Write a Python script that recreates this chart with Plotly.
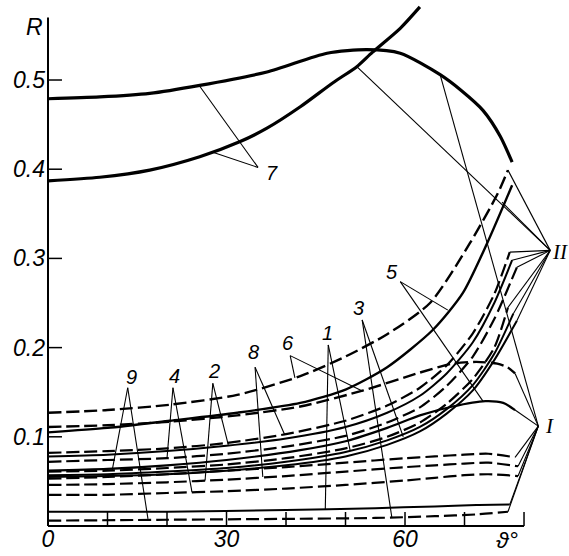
import plotly.graph_objects as go

# ------------------------------------------------------------------ data
# curve 7 : family I (upper) and family II (lower)
x_7_I = [0, 8.7, 17.1, 25.5, 36.8, 46.9, 53.6, 59.2, 65.9, 69.5, 73.1, 76.0, 78.0]
r_7_I = [0.479, 0.481, 0.485, 0.494, 0.509, 0.530, 0.534, 0.530, 0.506, 0.488, 0.466, 0.437, 0.408]
x_7_II = [0, 8.7, 17.1, 25.5, 32.3, 36.8, 42.4, 47.9, 51.9, 54.5, 59.2, 62.5]
r_7_II = [0.387, 0.391, 0.399, 0.414, 0.431, 0.446, 0.470, 0.497, 0.515, 0.531, 0.558, 0.582]

# family II (rising curves)
x_6_II = [0, 10, 20.5, 31.8, 42.4, 50, 57, 64.2, 70.9, 75.6, 77.3]
r_6_II = [0.127, 0.130, 0.136, 0.147, 0.168, 0.190, 0.215, 0.250, 0.317, 0.373, 0.399]
x_5_II = [0, 10, 20.5, 31.8, 42.4, 50, 57, 64.7, 69.7, 73.8, 78.0]
r_5_II = [0.105, 0.110, 0.118, 0.127, 0.138, 0.153, 0.178, 0.220, 0.261, 0.317, 0.382]
x_8_II = [0, 10, 20, 30, 40, 50, 57, 62.5, 67, 71.4, 75, 77.6]
r_8_II = [0.082, 0.084, 0.087, 0.093, 0.103, 0.118, 0.135, 0.155, 0.180, 0.216, 0.260, 0.307]
x_2_II = [0, 10, 20, 30, 40, 50, 57, 62.5, 67, 71.4, 75, 78.0]
r_2_II = [0.078, 0.080, 0.084, 0.090, 0.098, 0.111, 0.127, 0.146, 0.171, 0.206, 0.250, 0.298]
x_4_II = [0, 10, 20, 30, 40, 50, 57, 62.5, 67, 71.4, 75, 78.8]
r_4_II = [0.072, 0.074, 0.076, 0.081, 0.089, 0.101, 0.116, 0.133, 0.157, 0.190, 0.232, 0.290]
x_9_II = [0, 10, 20, 30, 40, 50, 57, 62.5, 67, 71.4, 75, 77.3]
r_9_II = [0.061, 0.062, 0.065, 0.069, 0.076, 0.087, 0.100, 0.116, 0.137, 0.165, 0.200, 0.245]
x_1_II = [0, 10, 20, 30, 40, 50, 57, 62.5, 67, 71.4, 75, 78.2]
r_1_II = [0.057, 0.058, 0.061, 0.065, 0.072, 0.083, 0.096, 0.111, 0.131, 0.158, 0.193, 0.238]
x_3_II = [0, 10, 20, 30, 40, 50, 57, 62.5, 67, 71.4, 75, 78.8]
r_3_II = [0.055, 0.056, 0.058, 0.062, 0.068, 0.078, 0.091, 0.106, 0.126, 0.152, 0.186, 0.230]

# family I (flatter curves)
x_6_I = [0, 10, 20.5, 31.8, 42.4, 53, 62.5, 68, 72, 75.5, 77.2, 78.5]
r_6_I = [0.111, 0.113, 0.117, 0.124, 0.134, 0.152, 0.172, 0.182, 0.184, 0.182, 0.178, 0.171]
x_5_I = [0, 10, 20, 30, 42.4, 50, 57, 62.5, 68, 73.5, 76.5, 78.5]
r_5_I = [0.062, 0.064, 0.068, 0.074, 0.085, 0.095, 0.110, 0.124, 0.134, 0.140, 0.138, 0.130]
x_8_I = [0, 10, 20, 30, 40, 50, 60, 65, 70, 74, 78.5]
r_8_I = [0.053, 0.055, 0.058, 0.062, 0.066, 0.071, 0.076, 0.078, 0.080, 0.081, 0.077]
x_2_I = [0, 10, 20, 30, 40, 50, 60, 65, 70, 74, 79.0]
r_2_I = [0.046, 0.047, 0.049, 0.052, 0.056, 0.061, 0.066, 0.068, 0.070, 0.071, 0.067]
x_4_I = [0, 10, 20, 30, 40, 50, 60, 65, 70, 74, 79.0]
r_4_I = [0.035, 0.035, 0.037, 0.039, 0.042, 0.046, 0.051, 0.054, 0.057, 0.058, 0.056]
x_1_I = [0, 20, 40, 55, 65, 72, 77.6]
r_1_I = [0.016, 0.016, 0.018, 0.020, 0.022, 0.0235, 0.024]
x_3_I = [0, 20, 40, 55, 65, 72, 77.3]
r_3_I = [0.006, 0.007, 0.008, 0.009, 0.011, 0.013, 0.016]

# axis ticks / labels
x_tick_marks = [10, 20, 30, 40, 50, 60, 70, 80]
x_tick_vals = [0, 30, 60]
x_tick_text = ["0", "30", "60"]
y_tick_vals = [0.1, 0.2, 0.3, 0.4, 0.5]
y_tick_text = ["0.1", "0.2", "0.3", "0.4", "0.5"]

# ------------------------------------------------------------------ styles
X_RANGE = [-0.336, 87.56]
Y_RANGE = [-0.00224, 0.5897]


def px(x):
    return (x - X_RANGE[0]) / (X_RANGE[1] - X_RANGE[0])


def py(y):
    return (y - Y_RANGE[0]) / (Y_RANGE[1] - Y_RANGE[0])


DASH = "13px,5px"
curves = [
    (x_7_I, r_7_I, "solid", 3.2), (x_7_II, r_7_II, "solid", 3.2),
    (x_6_II, r_6_II, DASH, 2.4), (x_5_II, r_5_II, "solid", 2.4),
    (x_8_II, r_8_II, DASH, 2.2), (x_2_II, r_2_II, "solid", 2.0),
    (x_4_II, r_4_II, DASH, 2.2), (x_9_II, r_9_II, DASH, 2.2),
    (x_1_II, r_1_II, "solid", 2.0), (x_3_II, r_3_II, "solid", 2.0),
    (x_6_I, r_6_I, DASH, 2.4), (x_5_I, r_5_I, "solid", 2.2),
    (x_8_I, r_8_I, DASH, 2.2), (x_2_I, r_2_I, DASH, 2.2),
    (x_4_I, r_4_I, DASH, 2.2), (x_1_I, r_1_I, "solid", 2.0),
    (x_3_I, r_3_I, DASH, 2.2),
]

fig = go.Figure()
for xs, ys, dash, w in curves:
    fig.add_trace(go.Scatter(x=xs, y=ys, mode="lines", hoverinfo="skip", showlegend=False,
                             line=dict(color="black", width=w, dash=dash,
                                       shape="spline", smoothing=0.7)))

# ------------------------------------------------------------------ axes drawn as lines
ax_line = dict(color="black", width=2)
fig.add_shape(type="line", x0=0, y0=0, x1=0, y1=0.57, line=ax_line)
fig.add_shape(type="line", x0=0, y0=0, x1=80, y1=0, line=ax_line)
for v in x_tick_marks:
    fig.add_shape(type="line", x0=v, y0=0, x1=v, y1=0.0157, line=dict(color="black", width=1.5))
for v in y_tick_vals:
    fig.add_shape(type="line", x0=0, y0=v, x1=2.35, y1=v, line=dict(color="black", width=1.5))

# ------------------------------------------------------------------ labels with leader lines
leaders = [
    ("7", (37.6, 0.396), (35.3, 0.402), [(25.5, 0.493), (27.7, 0.419)]),
    ("9", (14.0, 0.167), (13.4, 0.155), [(10.8, 0.063), (16.8, 0.008)]),
    ("4", (21.2, 0.168), (21.0, 0.155), [(20.0, 0.076), (24.2, 0.038)]),
    ("2", (27.9, 0.174), (27.7, 0.160), [(26.4, 0.051), (30.3, 0.091)]),
    ("8", (34.5, 0.195), (34.8, 0.178), [(39.8, 0.102), (36.1, 0.055)]),
    ("6", (40.3, 0.205), (40.7, 0.191), [(41.5, 0.166), (52.9, 0.151)]),
    ("1", (46.9, 0.216), (47.1, 0.203), [(46.6, 0.018), (50.8, 0.084)]),
    ("3", (52.1, 0.244), (52.8, 0.231), [(57.8, 0.009), (59.7, 0.100)]),
    ("5", (57.8, 0.285), (59.2, 0.274), [(67.2, 0.242), (73.1, 0.140)]),
]
thin = dict(color="black", width=1.1)
for txt, (tx, ty), (axx, ayy), ends in leaders:
    for ex, ey in ends:
        fig.add_shape(type="line", x0=axx, y0=ayy, x1=ex, y1=ey, line=thin)
    fig.add_annotation(x=tx, y=ty, text=txt, showarrow=False,
                       font=dict(family="Liberation Sans", size=20, style="italic", color="black"))

# family labels
fam_II_apex = (84.4, 0.309)
fam_II_ends = [(51.9, 0.515), (77.3, 0.399), (76.3, 0.363), (77.6, 0.307), (78.0, 0.298),
               (78.8, 0.290), (77.3, 0.245), (78.2, 0.238), (78.8, 0.230)]
fam_I_apex = (82.4, 0.112)
fam_I_ends = [(65.9, 0.506), (78.5, 0.171), (78.5, 0.130), (78.5, 0.077), (79.0, 0.067),
              (79.0, 0.056), (77.6, 0.024), (77.3, 0.016)]
for ex, ey in fam_II_ends:
    fig.add_shape(type="line", x0=fam_II_apex[0], y0=fam_II_apex[1], x1=ex, y1=ey, line=thin)
for ex, ey in fam_I_ends:
    fig.add_shape(type="line", x0=fam_I_apex[0], y0=fam_I_apex[1], x1=ex, y1=ey, line=thin)
fig.add_annotation(x=86.1, y=0.307, text="II", showarrow=False,
                   font=dict(family="Liberation Serif", size=21, style="italic", color="black"))
fig.add_annotation(x=84.2, y=0.112, text="I", showarrow=False,
                   font=dict(family="Liberation Serif", size=21, style="italic", color="black"))

# axis titles (paper coordinates: they lie outside the data ranges)
fig.add_annotation(xref="paper", yref="paper", x=px(-2.2), y=py(0.559), text="R", showarrow=False,
                   xanchor="center", yanchor="middle",
                   font=dict(family="Liberation Sans", size=23, style="italic", color="black"))
fig.add_annotation(xref="paper", yref="paper", x=px(77.2), y=py(-0.0157), text="ϑ°", showarrow=False,
                   xanchor="center", yanchor="middle",
                   font=dict(family="Liberation Sans", size=23, style="italic", color="black"))

tickfont = dict(family="Liberation Sans", size=23, style="italic", color="black")
fig.update_layout(
    width=569, height=556,
    margin=dict(l=46, r=0, t=0, b=28),
    paper_bgcolor="white", plot_bgcolor="white",
    xaxis=dict(range=X_RANGE, showgrid=False, zeroline=False, showline=False,
               tickvals=x_tick_vals, ticktext=x_tick_text, ticks="", tickfont=tickfont,
               ticklabelstandoff=-5,
               automargin=False, fixedrange=True),
    yaxis=dict(range=Y_RANGE, showgrid=False, zeroline=False, showline=False,
               tickvals=y_tick_vals, ticktext=y_tick_text, ticks="", tickfont=tickfont,
               automargin=False, fixedrange=True),
    showlegend=False,
)
fig.write_html("out.html", config={"displayModeBar": False},
               post_script="document.body.style.margin='0';document.body.style.overflow='hidden';")
